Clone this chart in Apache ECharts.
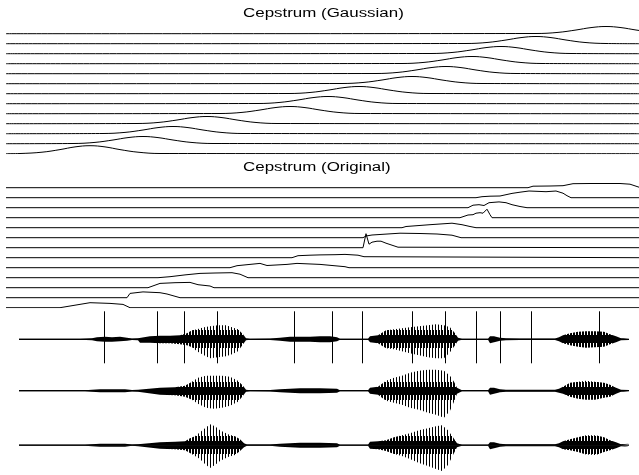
<!DOCTYPE html>
<html><head><meta charset="utf-8">
<script src="https://cdn.jsdelivr.net/npm/echarts@6/dist/echarts.min.js"></script>
<style>html,body{margin:0;padding:0;background:#fff}#c{width:639px;height:475px}</style>
</head><body><div id="c"></div>
<script>
// ---------- data (x in frame units; cepstrum amplitudes in line-spacing units) ----------
const TITLES = ['Cepstrum (Gaussian)', 'Cepstrum (Original)'];
const X_MIN = 6, X_MAX = 639;
const N_LEVELS = 13;

// Cepstrum (Gaussian): one list of [frame, amplitude] per line, bottom line first
const GAUSS = [
  [[20,.02],[42,.15],[60,.41],[75,.68],[90,.8],[105,.68],[120,.41],[138,.15],[160,.02]],
  [[73,.02],[95,.13],[113,.37],[128,.61],[143,.72],[158,.61],[173,.37],[191,.13],[213,.02]],
  [[103,.02],[125,.13],[143,.37],[158,.61],[173,.72],[188,.61],[203,.37],[221,.13],[243,.02]],
  [[137,.02],[159,.13],[177,.37],[192,.61],[207,.72],[222,.61],[237,.37],[255,.13],[277,.02]],
  [[220,.02],[242,.13],[260,.37],[275,.61],[290,.72],[305,.61],[320,.37],[338,.13],[360,.02]],
  [[258,.02],[280,.13],[298,.37],[313,.61],[328,.72],[343,.61],[358,.37],[376,.13],[398,.02]],
  [[289,.02],[311,.13],[329,.37],[344,.61],[359,.72],[374,.61],[389,.37],[407,.13],[429,.02]],
  [[342,.02],[364,.13],[382,.37],[397,.61],[412,.72],[427,.61],[442,.37],[460,.13],[482,.02]],
  [[376,.02],[398,.13],[416,.37],[431,.61],[446,.72],[461,.61],[476,.37],[494,.13],[516,.02]],
  [[402,.02],[424,.13],[442,.37],[457,.61],[472,.72],[487,.61],[502,.37],[520,.13],[542,.02]],
  [[431,.02],[453,.13],[471,.37],[486,.61],[501,.72],[516,.61],[531,.37],[549,.13],[571,.02]],
  [[466,.02],[488,.13],[506,.37],[521,.61],[536,.72],[551,.61],[566,.37],[584,.13],[606,.02]],
  [[536,.02],[558,.13],[576,.37],[591,.61],[606,.72],[621,.61],[636,.37],[654,.13],[676,.02]]
];

// Cepstrum (Original): one list of [frame, amplitude] per line, bottom line first
const ORIG = [
  [[60,0],[75,.25],[90,.5],[110,.43],[123,.33],[130,0]],
  [[127,0],[130,.43],[143,.58],[160,.5],[167,.37],[180,0]],
  [[148,0],[160,.43],[175,.5],[190,.53],[198,.3],[210,.17],[214,0]],
  [[158,0],[170,.1],[185,.28],[200,.43],[215,.47],[232,.5],[240,.35],[248,0]],
  [[230,0],[237,.2],[250,.33],[260,.43],[267,.22],[287,.33],[297,.43],[320,.33],[345,.1],[349,0]],
  [[292,0],[298,.2],[310,.25],[320,.28],[335,.3],[345,.33],[350,.3],[358,.25],[364,.1],[366,0]],
  [[363,0],[366,1.4],[369,.35],[372,.55],[377,.65],[381,.65],[386,.45],[392,.25],[398,.05],[400,0]],
  [[363,0],[366,.17],[372,.27],[400,.45],[420,.42],[437,.37],[452,.25],[461,0]],
  [[402,0],[406,.12],[430,.3],[452,.45],[462,.3],[470,.12],[476,0]],
  [[460,0],[463,.1],[468,.27],[473,.3],[476,.45],[480,.5],[483,.45],[487,.85],[490,.3],[492,0]],
  [[468,0],[473,.25],[479,.3],[484,.22],[489,.5],[499,.58],[506,.5],[512,.3],[520,.12],[527,0]],
  [[476,0],[482,.1],[490,.15],[500,.17],[512,.43],[520,.55],[529,.67],[546,.6],[556,.67],[563,.45],[567,.2],[571,0]],
  [[528,0],[533,.15],[550,.17],[563,.2],[568,.3],[573,.4],[590,.42],[620,.42],[630,.35],[639,.05]]
];

// Speech waveforms: envelope [frame, upper amplitude, lower amplitude]
const WAVE1 = [[19,.5,.5],[80,.5,.5],[92,1,1],[97,2,2],[105,2.5,2.5],[112,2,2.5],[120,2.5,2],[127,1.5,1.5],[132,.7,.7],[138,1,1],[140,3,3.5],[150,3,3.5],[160,3.5,4],[170,3.5,4],[180,4,5],[187,6,6],[192,9,8],[197,10,12],[204,12,16],[210,13,19],[218,14,18],[226,14,17],[232,12,15],[238,10,12],[243,5,5],[246,1,1],[250,.5,.5],[270,.7,.7],[280,1.5,1.5],[290,2.5,2.5],[300,2.5,2.5],[310,2.5,2.5],[320,3,3],[330,3,3],[337,2,2],[340,.5,.5],[368,.5,.5],[370,3,3],[378,4,4],[386,9,9],[394,10,10],[402,11,12],[410,12,14],[419,13,16],[428,14,18],[436,15,19],[444,14,19],[450,12,13],[455,6,6],[458,1.5,1.5],[462,.5,.5],[488,.5,.5],[490,3,4],[494,3,3],[500,1.5,1.5],[506,1,1],[520,.7,.7],[555,.7,.7],[559,2,2],[563,4,4],[570,6,6],[578,7.5,7.5],[586,8,8.5],[595,8,8],[604,7.5,7.5],[610,5,5],[616,3,3],[621,1,1],[629,.7,.7]];
const WAVE2 = [[19,.5,.5],[85,.5,.5],[92,1,1],[100,1.5,1.5],[110,1.5,1.5],[125,1.5,1.5],[132,.7,.7],[138,1,1],[140,2.5,3],[160,3,4],[175,3.5,4.5],[185,5,6],[192,9,9],[198,13,13],[206,15,17],[214,15,18],[222,15,17],[230,14,15],[238,10,11],[243,5,5],[246,1,1],[250,.5,.5],[270,.7,.7],[280,1.5,1.5],[300,2.5,2.5],[320,2.5,2.5],[337,2,2],[340,.5,.5],[368,.5,.5],[370,3,3],[378,4,4],[386,10,10],[394,13,12],[402,15,14],[410,18,17],[419,20,19],[428,21,22],[436,21,24],[444,20,27],[450,15,20],[454,9,11],[457,3,3],[462,.5,.5],[488,.5,.5],[490,3,4],[494,3,3],[500,1.5,1.5],[506,1,1],[555,1,1],[559,2,2],[563,4,3],[570,8,6],[578,9,8],[586,10,9],[595,9,9],[604,8,7],[610,6,6],[616,3,3],[621,1,1],[629,.7,.7]];
const WAVE3 = [[19,.5,.5],[85,.5,.5],[92,1,1],[100,1.5,1.5],[110,1.5,1.5],[125,1.5,1.5],[132,.7,.7],[138,1,1],[140,2.5,3],[160,3,3.5],[175,3.5,4],[185,4,5],[190,7,8],[195,9,11],[200,13,14],[205,17,19],[210,21,23],[215,19,20],[220,15,16],[228,11,12],[235,9,10],[240,6,6],[244,2,2],[247,.7,.7],[270,.7,.7],[280,1.5,1.5],[300,2.5,2.5],[320,2.5,2.5],[337,2,2],[340,.5,.5],[368,.5,.5],[370,3.5,3.5],[378,4,4],[386,5,6],[394,8,9],[402,10,11],[410,12,14],[419,15,18],[428,17,21],[436,19,24],[442,20,26],[448,15,20],[453,8,10],[457,2,2],[462,.5,.5],[488,.5,.5],[490,3,4],[494,3,3],[500,1.5,1.5],[506,1,1],[555,1,1],[559,2,2],[563,4,4],[570,6,5],[578,8,7],[586,10,9.5],[596,10,10],[604,8,7],[610,5,5],[616,3,3],[621,1,1],[629,1.5,1.5]];
const WAVES = [WAVE1, WAVE2, WAVE3];

// segment boundaries marked on the top waveform
const MARKERS = [104, 157, 184, 217, 294, 332, 362, 412, 445, 476, 500, 531, 599];
const MARK_RANGE = [-24, 28];

// ---------- layout ----------
const CHART_H = 475;
const PANEL_BOTTOM = [153.7, 307.7];
const WAVE_CENTER = [339.3, 390.7, 445.3];
const WAVE_HALF = 30;
const BAND_HALF = [9, 4];   // half-heights of the denser texture bands

const chart = echarts.init(document.getElementById('c'), null, {renderer: 'canvas'});

// striated fill: denser near each waveform's centre line, sparse spikes towards the tips
const pc = document.createElement('canvas');
pc.width = 3; pc.height = CHART_H;
const g = pc.getContext('2d');
g.fillStyle = '#000';
g.fillRect(0, 0, 1, CHART_H);
WAVE_CENTER.forEach(c => {
  g.fillRect(1, Math.round(c - BAND_HALF[0]), 1, 2 * BAND_HALF[0]);
  g.fillRect(2, Math.round(c - BAND_HALF[1]), 1, 2 * BAND_HALF[1]);
});
const stripe = {image: pc, repeat: 'repeat'};

const grids = [], xAxes = [], yAxes = [];
function addGrid(top, height, ymin, ymax) {
  grids.push({left: X_MIN, width: X_MAX - X_MIN, top: top, height: height});
  const i = grids.length - 1;
  xAxes.push({type: 'value', gridIndex: i, min: X_MIN, max: X_MAX, show: false});
  yAxes.push({type: 'value', gridIndex: i, min: ymin, max: ymax, show: false});
  return i;
}
PANEL_BOTTOM.forEach(b => addGrid(b - N_LEVELS * 10, N_LEVELS * 10, 0, N_LEVELS));
WAVE_CENTER.forEach(c => addGrid(c - WAVE_HALF, 2 * WAVE_HALF, -WAVE_HALF, WAVE_HALF));

const series = [];
const lineBase = {type: 'line', showSymbol: false, silent: true, animation: false, clip: true};
function levelSeries(curves, gi, smooth) {
  curves.forEach((pts, lvl) => {
    const d = pts.slice();
    if (d[0][0] > X_MIN) d.unshift([X_MIN, 0]);
    if (d[d.length - 1][0] < X_MAX) d.push([X_MAX, 0]);
    series.push(Object.assign({}, lineBase, {
      xAxisIndex: gi, yAxisIndex: gi, smooth: smooth,
      data: d.map(p => [p[0], lvl + p[1]]),
      lineStyle: {color: '#000', width: 1}
    }));
  });
}
levelSeries(GAUSS, 0, 0.4);
levelSeries(ORIG, 1, false);

WAVES.forEach((w, k) => {
  const gi = 2 + k;
  series.push(Object.assign({}, lineBase, {
    xAxisIndex: gi, yAxisIndex: gi, data: w.map(p => [p[0], p[1]]),
    lineStyle: {opacity: 0}, areaStyle: {color: stripe, opacity: 1}
  }));
  series.push(Object.assign({}, lineBase, {
    xAxisIndex: gi, yAxisIndex: gi, data: w.map(p => [p[0], -p[2]]),
    lineStyle: {opacity: 0}, areaStyle: {color: stripe, opacity: 1}
  }));
  series.push(Object.assign({}, lineBase, {
    xAxisIndex: gi, yAxisIndex: gi, data: [[w[0][0], 0], [w[w.length - 1][0], 0]],
    lineStyle: {color: '#000', width: 1.2}
  }));
});

series.push({
  type: 'custom', xAxisIndex: 2, yAxisIndex: 2, silent: true, animation: false,
  data: MARKERS.map(x => [x, 0]), encode: {x: 0, y: 1},
  renderItem: (params, api) => {
    const p1 = api.coord([api.value(0), MARK_RANGE[1]]);
    const p2 = api.coord([api.value(0), MARK_RANGE[0]]);
    const x = Math.round(p1[0]) + 0.5;
    return {type: 'line', shape: {x1: x, y1: p1[1], x2: x, y2: p2[1]},
            style: {stroke: '#000', lineWidth: 1}};
  }
});

const titleFont = '12px "Liberation Sans", Arial, sans-serif';
chart.setOption({
  backgroundColor: '#fff',
  animation: false,
  grid: grids, xAxis: xAxes, yAxis: yAxes,
  graphic: [
    {type: 'text', x: 243, y: 13.5, scaleX: 1.41, silent: true,
     style: {text: TITLES[0], font: titleFont, fill: '#000', align: 'left', verticalAlign: 'middle', textAlign: 'left', textVerticalAlign: 'middle'}},
    {type: 'text', x: 243, y: 168, scaleX: 1.41, silent: true,
     style: {text: TITLES[1], font: titleFont, fill: '#000', align: 'left', verticalAlign: 'middle', textAlign: 'left', textVerticalAlign: 'middle'}}
  ],
  series: series
});
</script></body></html>
